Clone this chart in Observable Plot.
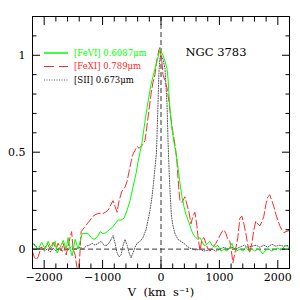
<!DOCTYPE html>
<html>
<head>
<meta charset="utf-8">
<script src="https://cdn.jsdelivr.net/npm/d3@7"></script>
<script src="https://cdn.jsdelivr.net/npm/@observablehq/plot@0.6"></script>
<style>
  body { margin: 0; background: #fff; }
  #wrap { position: relative; width: 300px; height: 300px; }
  #legend { position: absolute; left: 0; top: 0; pointer-events: none; }
</style>
</head>
<body>
<div id="wrap"></div>
<script>
// ---- data (velocity km/s, normalized flux) ----
const feVI = [[-2205,0.03],[-2154,0.015],[-2103,0.0],[-2043,0.035],[-1983,0.0],[-1932,0.04],[-1880,0.005],[-1812,0.04],[-1778,-0.02],[-1726,0.01],[-1675,0.045],[-1624,0.0],[-1590,0.06],[-1556,0.0],[-1521,-0.035],[-1470,0.05],[-1419,0.0],[-1385,0.04],[-1350,0.08],[-1299,0.08],[-1248,0.08],[-1197,0.06],[-1145,0.05],[-1094,0.06],[-1043,0.09],[-991,0.08],[-940,0.085],[-889,0.1],[-838,0.11],[-786,0.13],[-735,0.15],[-684,0.15],[-632,0.16],[-581,0.2],[-530,0.25],[-479,0.32],[-427,0.39],[-393,0.45],[-359,0.5],[-325,0.55],[-274,0.66],[-239,0.73],[-205,0.79],[-171,0.85],[-137,0.89],[-103,0.93],[-68,0.97],[-34,1.01],[-17,1.03],[0,1.02],[34,1.0],[68,0.97],[103,0.93],[120,0.88],[137,0.8],[154,0.72],[188,0.62],[222,0.55],[256,0.5],[291,0.42],[325,0.34],[359,0.27],[393,0.22],[427,0.18],[462,0.15],[496,0.12],[530,0.09],[564,0.07],[598,0.06],[632,0.05],[667,0.06],[701,0.04],[735,0.02],[769,0.02],[803,0.03],[838,0.04],[872,0.02],[923,0.01],[974,0.02],[1026,-0.01],[1077,0.0],[1128,-0.01],[1179,0.01],[1214,0.03],[1248,0.0],[1299,-0.01],[1350,0.0],[1402,-0.01],[1453,0.01],[1504,-0.01],[1556,0.0],[1607,-0.01],[1658,0.0],[1709,-0.01],[1744,-0.025],[1795,-0.005],[1846,0.0],[1897,-0.01],[1949,0.0],[2000,0.005],[2051,-0.005],[2103,0.01],[2137,0.02],[2188,0.01]];

const feXI = [[-2205,-0.01],[-2171,-0.04],[-2137,-0.055],[-2103,-0.04],[-2051,0.01],[-2000,0.0],[-1949,0.03],[-1897,0.0],[-1846,0.035],[-1795,0.0],[-1761,0.03],[-1709,-0.01],[-1675,0.03],[-1624,-0.03],[-1573,0.04],[-1530,0.09],[-1504,0.0],[-1470,-0.03],[-1436,-0.1],[-1402,-0.1],[-1368,0.09],[-1316,0.11],[-1265,0.13],[-1214,0.15],[-1162,0.17],[-1111,0.18],[-1060,0.185],[-1009,0.18],[-957,0.19],[-906,0.2],[-855,0.23],[-821,0.25],[-786,0.22],[-752,0.19],[-718,0.25],[-667,0.3],[-615,0.32],[-581,0.35],[-547,0.4],[-513,0.45],[-479,0.49],[-444,0.51],[-410,0.53],[-376,0.52],[-342,0.53],[-308,0.54],[-274,0.56],[-239,0.64],[-205,0.72],[-171,0.8],[-137,0.86],[-103,0.9],[-68,0.98],[-34,1.03],[-17,1.04],[17,0.96],[34,0.9],[68,0.87],[103,0.83],[137,0.76],[171,0.67],[205,0.6],[239,0.54],[274,0.45],[291,0.37],[308,0.3],[325,0.25],[359,0.24],[393,0.26],[410,0.27],[444,0.23],[479,0.19],[513,0.13],[547,0.17],[581,0.19],[615,0.12],[632,0.07],[667,-0.01],[701,0.05],[735,0.06],[769,0.03],[803,0.0],[838,-0.01],[889,0.01],[940,0.03],[991,0.06],[1043,0.09],[1077,0.1],[1111,0.08],[1145,0.05],[1179,0.04],[1214,-0.03],[1231,-0.07],[1265,-0.02],[1316,0.06],[1350,0.16],[1385,0.17],[1419,0.13],[1453,0.08],[1487,0.02],[1521,-0.02],[1556,0.03],[1590,0.1],[1624,0.145],[1658,0.13],[1692,0.12],[1726,0.14],[1761,0.17],[1795,0.23],[1829,0.27],[1863,0.28],[1897,0.25],[1932,0.22],[1966,0.18],[2000,0.15],[2034,0.12],[2068,0.1],[2103,0.085],[2137,0.09],[2188,0.095]];

const sII = [[-2205,0.035],[-2154,0.02],[-2103,0.0],[-2051,0.01],[-2000,-0.01],[-1949,0.0],[-1897,-0.015],[-1846,0.005],[-1795,-0.01],[-1744,0.005],[-1692,-0.01],[-1641,0.0],[-1590,-0.005],[-1538,0.01],[-1487,0.0],[-1436,0.005],[-1385,0.01],[-1333,0.0],[-1282,0.015],[-1231,0.02],[-1179,0.03],[-1128,0.02],[-1077,0.03],[-1026,0.04],[-974,0.02],[-923,0.02],[-872,0.04],[-838,0.06],[-821,0.07],[-786,0.03],[-752,-0.02],[-718,-0.04],[-684,-0.03],[-649,0.02],[-615,0.05],[-581,0.02],[-547,-0.02],[-513,-0.045],[-479,-0.02],[-444,0.01],[-410,0.03],[-359,0.04],[-308,0.06],[-256,0.1],[-222,0.15],[-188,0.2],[-154,0.27],[-128,0.34],[-103,0.42],[-77,0.5],[-51,0.75],[-34,0.92],[-17,0.99],[0,1.0],[34,0.98],[68,0.93],[103,0.75],[120,0.56],[137,0.42],[154,0.3],[179,0.17],[205,0.12],[239,0.08],[291,0.05],[342,0.04],[393,0.03],[444,0.015],[496,0.005],[547,0.0],[598,-0.005],[667,0.0],[735,-0.01],[803,-0.005],[872,0.0],[940,-0.01],[1009,0.0],[1077,0.01],[1145,0.0],[1214,0.01],[1282,0.0],[1350,0.01],[1419,0.02],[1487,0.01],[1556,0.015],[1624,0.02],[1692,0.01],[1761,0.02],[1829,0.01],[1897,0.025],[1966,0.015],[2034,0.02],[2103,0.015],[2188,0.02]];

const xMajorTicks = [-2000, -1000, 0, 1000, 2000];
const xTickLabels = ["\u22122000", "\u22121000", "0", "1000", "2000"];
const xMinorTicks = [-2200,-1800,-1600,-1400,-1200,-800,-600,-400,-200,200,400,600,800,1200,1400,1600,1800,2200];
const yMajorTicks = [0, 0.5, 1];
const yTickLabels = ["0", "0.5", "1"];
const yMinorTicks = [-0.1,0.1,0.2,0.3,0.4,0.6,0.7,0.8,0.9,1.1,1.2];

const seriesNames = ["[FeVI] 0.6087\u03bcm", "[FeXI] 0.789\u03bcm", "[SII] 0.673\u03bcm"];
const seriesColors = ["#00ff00", "#ff2a2a", "#555555"];
const titleText = "NGC 3783";
const xLabel = "V\u00a0 (km\u00a0 s\u207b\u00b9)";

const serif = "'DejaVu Serif', 'Liberation Serif', serif";
const blank = () => "";
const major = 8, minor = 4.5;

const chart = Plot.plot({
  width: 300,
  height: 300,
  marginLeft: 32,
  marginRight: 11,
  marginTop: 16,
  marginBottom: 32,
  style: { fontFamily: serif, background: "#fff", color: "#000" },
  x: { domain: [-2200, 2200], label: null },
  y: { domain: [-0.1, 1.2], label: null },
  marks: [
    Plot.ruleX([0], { stroke: "#333", strokeDasharray: "5,3", strokeWidth: 1 }),
    Plot.ruleY([0], { stroke: "#333", strokeDasharray: "5,3", strokeWidth: 1 }),
    Plot.line(sII, { x: d => d[0], y: d => d[1], stroke: seriesColors[2], strokeWidth: 1, strokeDasharray: "1,1.5", clip: true }),
    Plot.line(feXI, { x: d => d[0], y: d => d[1], stroke: seriesColors[1], strokeWidth: 1, strokeDasharray: "8,3", clip: true }),
    Plot.line(feVI, { x: d => d[0], y: d => d[1], stroke: seriesColors[0], strokeWidth: 1, clip: true }),
    // inward ticks on all sides
    Plot.axisX(xMajorTicks, { anchor: "bottom", tickSize: -major, tickFormat: blank, label: null }),
    Plot.axisX(xMinorTicks, { anchor: "bottom", tickSize: -minor, tickFormat: blank, label: null }),
    Plot.axisX(xMajorTicks, { anchor: "top", tickSize: -major, tickFormat: blank, label: null }),
    Plot.axisX(xMinorTicks, { anchor: "top", tickSize: -minor, tickFormat: blank, label: null }),
    Plot.axisY(yMajorTicks, { anchor: "left", tickSize: -major, tickFormat: blank, label: null }),
    Plot.axisY(yMinorTicks, { anchor: "left", tickSize: -minor, tickFormat: blank, label: null }),
    Plot.axisY(yMajorTicks, { anchor: "right", tickSize: -major, tickFormat: blank, label: null }),
    Plot.axisY(yMinorTicks, { anchor: "right", tickSize: -minor, tickFormat: blank, label: null }),
    // tick labels
    Plot.axisX(xMajorTicks, { anchor: "bottom", tickSize: 0, tickPadding: 5, fontSize: 11,
      tickFormat: (d) => xTickLabels[xMajorTicks.indexOf(d)], label: null }),
    Plot.axisY(yMajorTicks, { anchor: "left", tickSize: 0, tickPadding: 7, fontSize: 11,
      tickFormat: (d) => yTickLabels[yMajorTicks.indexOf(d)], label: null }),
    Plot.frame({ stroke: "#000", strokeWidth: 1 }),
    Plot.text([titleText], { frameAnchor: "top-left", dx: 153, dy: 35.5, textAnchor: "start", lineAnchor: "middle", fontSize: 11.5, fill: "#000" }),
    Plot.text([xLabel], { frameAnchor: "bottom", dy: 24, lineAnchor: "middle", fontSize: 11.5, fill: "#000" })
  ]
});

const wrap = document.getElementById("wrap");
wrap.appendChild(chart);

// legend overlay (top-left inside the frame)
const ns = "http://www.w3.org/2000/svg";
const leg = document.createElementNS(ns, "svg");
leg.setAttribute("id", "legend");
leg.setAttribute("width", "300");
leg.setAttribute("height", "100");
const dashes = [null, "10,5", "1,1.5"];
seriesNames.forEach((name, i) => {
  const yy = 53 + i * 13.5;
  const ln = document.createElementNS(ns, "line");
  ln.setAttribute("x1", 44); ln.setAttribute("x2", 68);
  ln.setAttribute("y1", yy); ln.setAttribute("y2", yy);
  ln.setAttribute("stroke", seriesColors[i]);
  ln.setAttribute("stroke-width", i === 0 ? 1.5 : 1);
  if (dashes[i]) ln.setAttribute("stroke-dasharray", dashes[i]);
  leg.appendChild(ln);
  const tx = document.createElementNS(ns, "text");
  tx.setAttribute("x", 74); tx.setAttribute("y", yy);
  tx.setAttribute("dy", "0.35em");
  tx.setAttribute("font-family", serif);
  tx.setAttribute("font-size", "8.5");
  tx.setAttribute("fill", i === 2 ? "#000" : seriesColors[i]);
  tx.textContent = name;
  leg.appendChild(tx);
});
wrap.appendChild(leg);
</script>
</body>
</html>
